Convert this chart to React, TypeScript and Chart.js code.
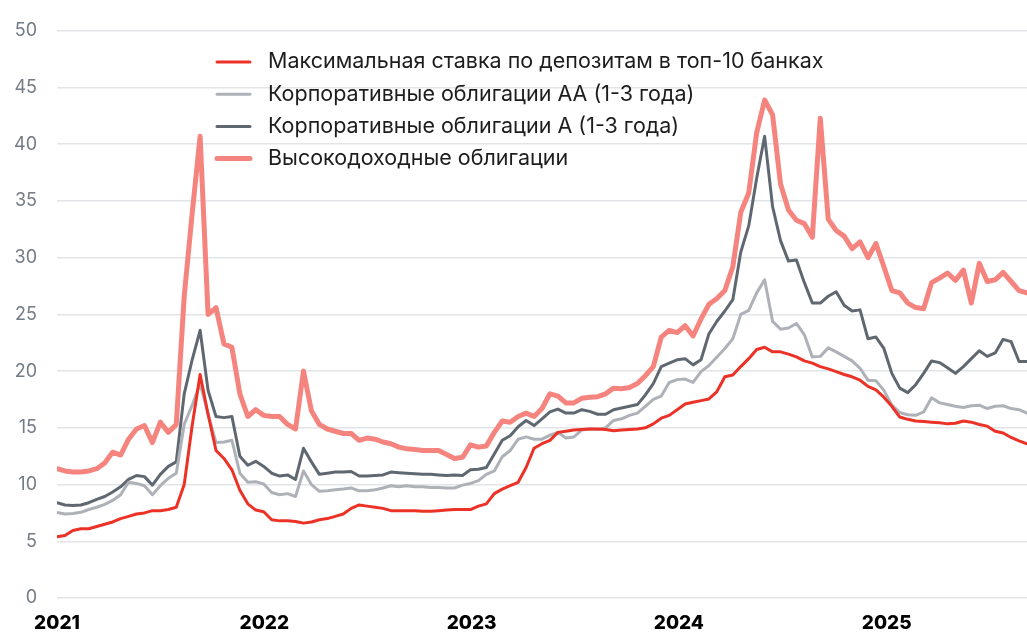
import React, { useEffect, useRef } from "react";
import { Chart, registerables } from "chart.js";

Chart.register(...registerables);

// ---- data (one value every 14 days, starting 1 Jan 2021) ----
const START = Date.UTC(2021, 0, 1);
const STEP_DAYS = 14;
const YEAR_LABELS = ["2021", "2022", "2023", "2024", "2025"];
const Y_MIN = 0;
const Y_MAX = 50;
const Y_STEP = 5;

const SERIES_NAMES = [
  "Максимальная ставка по депозитам в топ-10 банках",
  "Корпоративные облигации АА (1-3 года)",
  "Корпоративные облигации А (1-3 года)",
  "Высокодоходные облигации",
];

const DEPOSIT_RATE = [
  5.4, 5.5, 5.95, 6.1, 6.1, 6.3, 6.5, 6.7, 7.0, 7.2, 7.4, 7.5, 7.7, 7.7, 7.8, 8.0,
  10.0, 15.2, 19.7, 16.2, 13.0, 12.3, 11.3, 9.5, 8.3, 7.75, 7.6, 6.9, 6.8, 6.8, 6.75, 6.6,
  6.7, 6.9, 7.0, 7.2, 7.4, 7.9, 8.2, 8.1, 8.0, 7.9, 7.7, 7.7, 7.7, 7.7, 7.65, 7.65,
  7.7, 7.75, 7.8, 7.8, 7.8, 8.1, 8.3, 9.2, 9.6, 9.9, 10.2, 11.5, 13.2, 13.6, 13.9, 14.6,
  14.7, 14.8, 14.85, 14.9, 14.9, 14.85, 14.75, 14.8, 14.85, 14.9, 15.0, 15.35, 15.85, 16.1, 16.6, 17.1,
  17.25, 17.4, 17.55, 18.2, 19.5, 19.65, 20.4, 21.1, 21.9, 22.1, 21.7, 21.7, 21.5, 21.25, 20.9, 20.7,
  20.4, 20.2, 19.95, 19.7, 19.5, 19.2, 18.65, 18.35, 17.7, 16.9, 15.95, 15.75, 15.6, 15.55, 15.5, 15.45,
  15.35, 15.4, 15.6, 15.5, 15.3, 15.15, 14.7, 14.55, 14.15, 13.85, 13.6,
];

const AA_BONDS = [
  7.55, 7.4, 7.45, 7.55, 7.8, 8.0, 8.25, 8.6, 9.1, 10.2, 10.1, 9.9, 9.1, 9.9, 10.55, 11.0,
  15.3, 17.0, 18.9, 16.2, 13.7, 13.75, 13.9, 11.0, 10.2, 10.25, 10.05, 9.3, 9.1, 9.2, 8.95, 11.2,
  10.0, 9.4, 9.45, 9.55, 9.6, 9.7, 9.45, 9.45, 9.55, 9.7, 9.9, 9.8, 9.9, 9.8, 9.8, 9.75,
  9.75, 9.7, 9.7, 9.95, 10.1, 10.35, 10.9, 11.2, 12.45, 13.0, 14.0, 14.2, 14.0, 14.0, 14.35, 14.6,
  14.1, 14.2, 14.8, 14.9, 14.85, 15.0, 15.65, 15.8, 16.1, 16.3, 16.9, 17.5, 17.8, 19.0, 19.25, 19.3,
  19.0, 19.95, 20.5, 21.25, 22.0, 22.85, 25.0, 25.35, 26.9, 28.05, 24.4, 23.7, 23.8, 24.2, 23.2, 21.25,
  21.3, 22.05, 21.7, 21.3, 20.9, 20.25, 19.2, 19.15, 18.3, 17.0, 16.35, 16.15, 16.1, 16.4, 17.65, 17.2,
  17.05, 16.9, 16.8, 16.95, 17.0, 16.7, 16.9, 16.95, 16.7, 16.6, 16.3,
];

const A_BONDS = [
  8.4, 8.2, 8.15, 8.2, 8.4, 8.7, 8.95, 9.35, 9.8, 10.45, 10.8, 10.7, 9.95, 10.9, 11.6, 12.0,
  18.0, 21.0, 23.6, 18.3, 16.0, 15.9, 16.0, 12.5, 11.7, 12.05, 11.6, 11.0, 10.75, 10.85, 10.45, 13.2,
  12.0, 10.9, 11.0, 11.1, 11.1, 11.15, 10.75, 10.75, 10.8, 10.85, 11.1, 11.05, 11.0, 10.95, 10.9, 10.9,
  10.85, 10.8, 10.85, 10.8, 11.3, 11.35, 11.5, 12.7, 13.9, 14.3, 15.1, 15.65, 15.2, 15.8, 16.4, 16.65,
  16.3, 16.3, 16.6, 16.45, 16.2, 16.2, 16.6, 16.75, 16.9, 17.05, 17.9, 18.9, 20.4, 20.7, 21.0, 21.1,
  20.55, 21.0, 23.3, 24.4, 25.3, 26.3, 30.5, 32.8, 37.0, 40.7, 34.5, 31.5, 29.7, 29.8, 27.8, 26.0,
  26.0, 26.6, 27.0, 25.8, 25.3, 25.4, 22.85, 23.0, 22.0, 19.8, 18.5, 18.1, 18.8, 19.8, 20.9, 20.75,
  20.3, 19.8, 20.4, 21.1, 21.8, 21.3, 21.6, 22.8, 22.6, 20.85, 20.85,
];

const HIGH_YIELD = [
  11.4, 11.2, 11.1, 11.1, 11.2, 11.4, 11.9, 12.85, 12.6, 14.0, 14.9, 15.2, 13.7, 15.5, 14.6, 15.3,
  26.6, 33.9, 40.7, 25.0, 25.6, 22.4, 22.1, 18.0, 16.0, 16.6, 16.1, 16.0, 16.0, 15.3, 14.9, 20.0,
  16.5, 15.3, 14.9, 14.7, 14.5, 14.5, 13.9, 14.1, 14.0, 13.75, 13.6, 13.3, 13.15, 13.1, 13.0, 13.0,
  13.0, 12.65, 12.3, 12.4, 13.5, 13.3, 13.4, 14.6, 15.6, 15.5, 16.0, 16.3, 16.0, 16.7, 18.0, 17.8,
  17.2, 17.2, 17.6, 17.7, 17.75, 18.0, 18.5, 18.45, 18.55, 18.9, 19.6, 20.4, 23.0, 23.6, 23.4, 24.0,
  23.1, 24.6, 25.9, 26.4, 27.1, 29.2, 34.0, 35.7, 41.0, 43.9, 42.6, 36.5, 34.2, 33.3, 33.0, 31.8,
  42.3, 33.4, 32.4, 31.9, 30.8, 31.4, 30.0, 31.25, 29.2, 27.1, 26.9, 26.0, 25.6, 25.5, 27.8, 28.2,
  28.65, 28.0, 28.9, 26.0, 29.5, 27.9, 28.05, 28.7, 27.9, 27.1, 26.9,
];

const SERIES_VALUES = [DEPOSIT_RATE, AA_BONDS, A_BONDS, HIGH_YIELD];
const SERIES_COLORS = ["#EC3226", "#AEB2B8", "#5F6771", "#F5847E"];
const SERIES_WIDTHS = [3, 3, 3, 5];

// ---- helpers ----
const DAY_MS = 86400000;
const dayOfYearStart = (label: string) =>
  (Date.UTC(Number(label), 0, 1) - START) / DAY_MS;
const YEAR_TICK_VALUES = YEAR_LABELS.map(dayOfYearStart);
const LAST_DAY = (DEPOSIT_RATE.length - 1) * STEP_DAYS;

const FONT = "Inter, 'Noto Sans', sans-serif";

const insideLegend = {
  id: "insideLegend",
  afterDraw(chart: any) {
    const ctx = chart.ctx as CanvasRenderingContext2D;
    const x0 = 217;
    const x1 = 250;
    const textX = 268;
    const top = 62;
    const row = 32.2;
    ctx.save();
    chart.data.datasets.forEach((ds: any, i: number) => {
      const y = top + i * row;
      ctx.strokeStyle = ds.borderColor;
      ctx.lineWidth = ds.borderWidth;
      ctx.lineCap = "round";
      ctx.beginPath();
      ctx.moveTo(x0, y);
      ctx.lineTo(x1, y);
      ctx.stroke();
      ctx.fillStyle = "#1d1d1d";
      ctx.font = `21.5px ${FONT}`;
      ctx.textAlign = "left";
      ctx.textBaseline = "middle";
      ctx.fillText(ds.label, textX, y);
    });
    ctx.restore();
  },
};

export default function App() {
  const canvasRef = useRef<HTMLCanvasElement | null>(null);

  useEffect(() => {
    if (!canvasRef.current) return;
    const datasets = SERIES_NAMES.map((name, s) => ({
      label: name,
      data: SERIES_VALUES[s].map((v, i) => ({ x: i * STEP_DAYS, y: v })),
      borderColor: SERIES_COLORS[s],
      backgroundColor: SERIES_COLORS[s],
      borderWidth: SERIES_WIDTHS[s],
      pointRadius: 0,
      tension: 0,
      borderJoinStyle: "round" as const,
      borderCapStyle: "round" as const,
      fill: false,
    }));

    const chart = new Chart(canvasRef.current, {
      type: "line",
      data: { datasets },
      plugins: [insideLegend],
      options: {
        animation: false,
        responsive: true,
        maintainAspectRatio: false,
        layout: { padding: { top: 22, right: 0, left: 0, bottom: 0 } },
        plugins: {
          legend: { display: false },
          tooltip: { enabled: false },
        },
        scales: {
          x: {
            type: "linear",
            min: 0,
            max: LAST_DAY,
            grid: { display: false },
            border: { display: false },
            afterFit: (scale: any) => {
              scale.height = 36;
            },
            afterBuildTicks: (scale: any) => {
              scale.ticks = YEAR_TICK_VALUES.map((v) => ({ value: v }));
            },
            ticks: {
              autoSkip: false,
              maxRotation: 0,
              padding: 6,
              color: "#000000",
              font: { family: FONT, size: 19, weight: "800" },
              callback: (value: any) => {
                const idx = YEAR_TICK_VALUES.indexOf(Number(value));
                return idx >= 0 ? YEAR_LABELS[idx] : "";
              },
            },
          },
          y: {
            min: Y_MIN,
            max: Y_MAX,
            afterFit: (scale: any) => {
              scale.width = 57;
            },
            grid: {
              color: "#E2E4E7",
              lineWidth: 1.5,
              drawTicks: false,
            },
            border: { display: false },
            ticks: {
              stepSize: Y_STEP,
              padding: 20,
              color: "#737B86",
              font: { family: FONT, size: 18 },
            },
          },
        },
      },
    });
    return () => chart.destroy();
  }, []);

  return (
    <div
      style={{
        position: "fixed",
        left: 0,
        top: 0,
        width: 1027,
        height: 634,
        background: "#ffffff",
      }}
    >
      <canvas ref={canvasRef} />
    </div>
  );
}
